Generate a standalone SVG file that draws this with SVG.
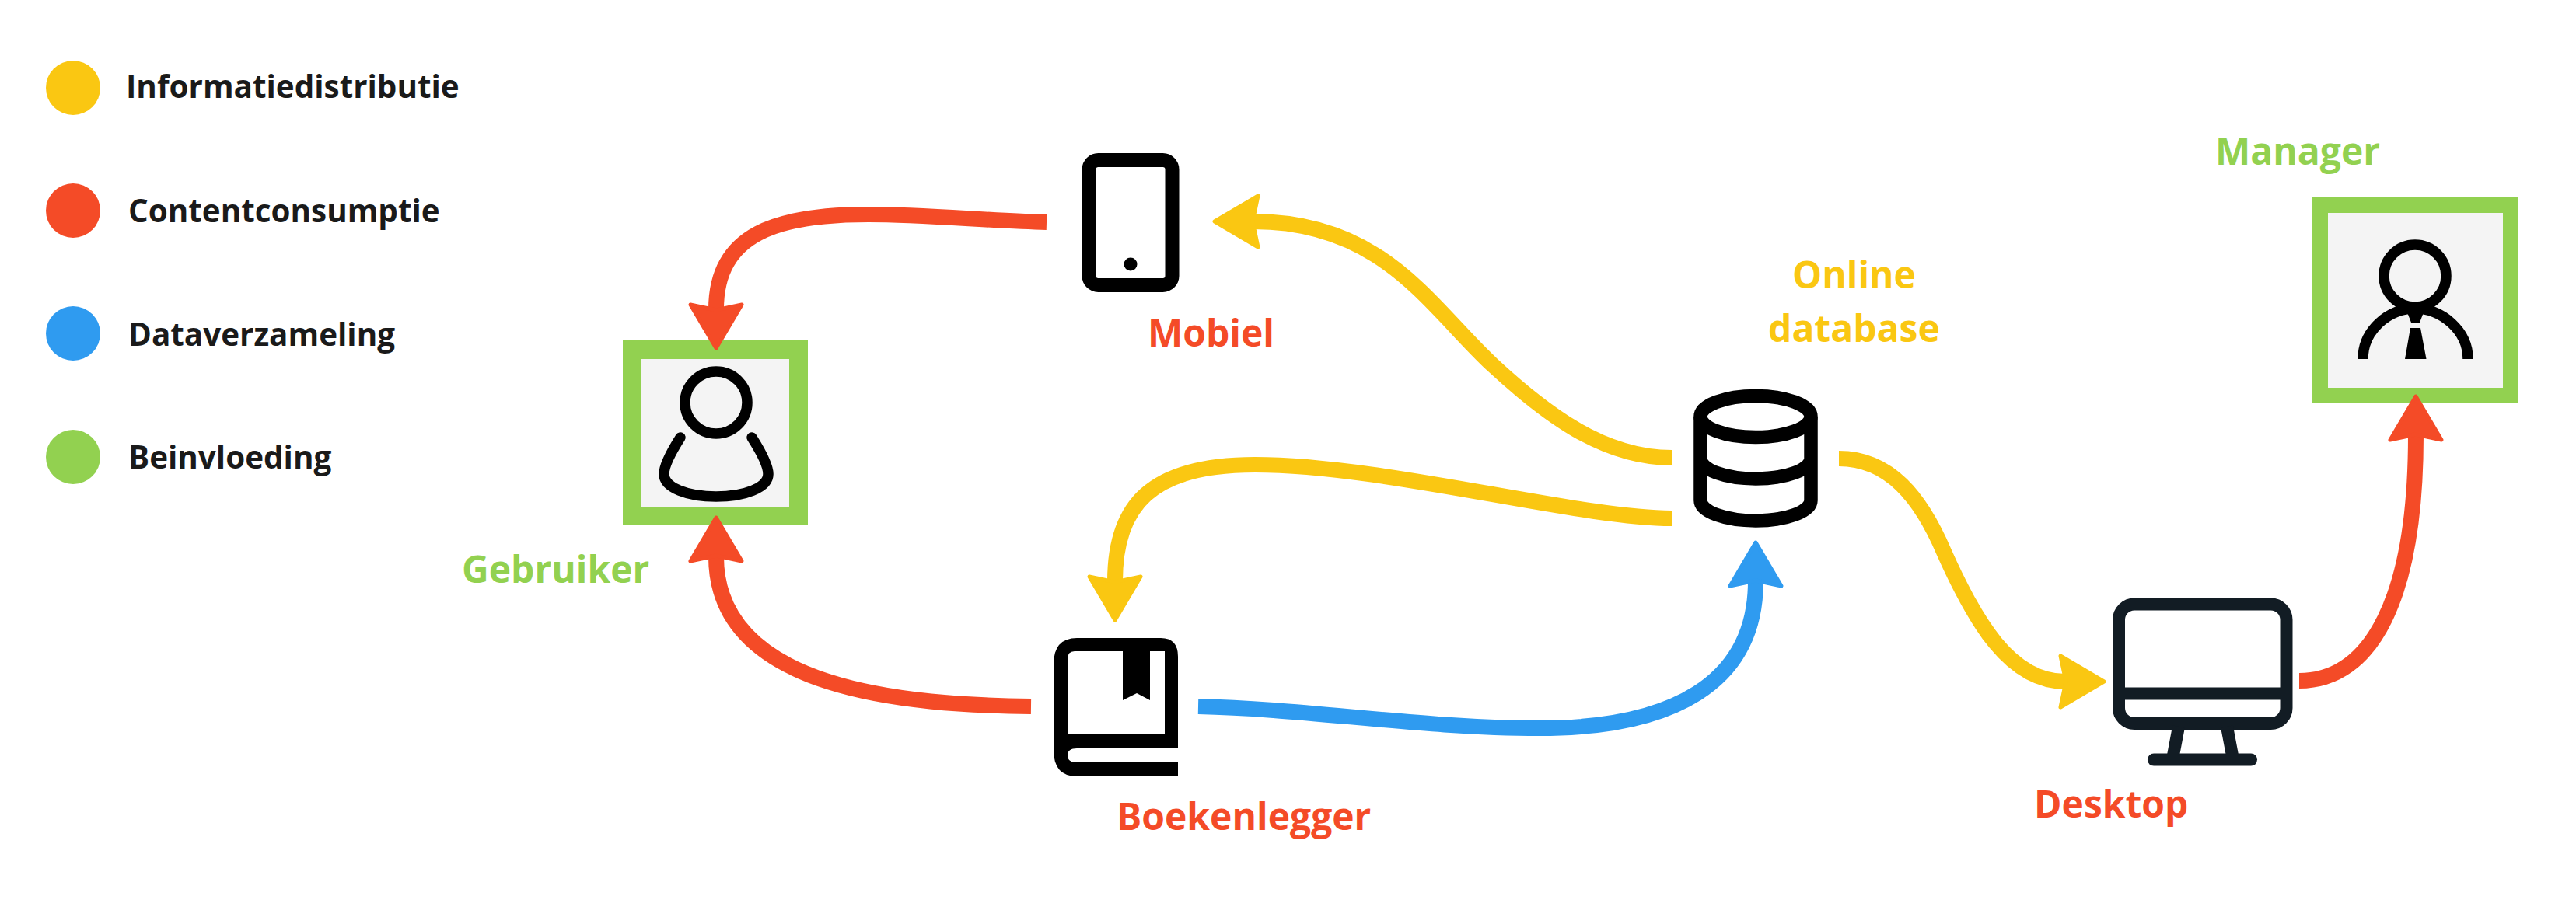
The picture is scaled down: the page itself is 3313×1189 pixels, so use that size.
<svg xmlns="http://www.w3.org/2000/svg" width="3313" height="1189" viewBox="0 0 3313 1189">
<style>
text{font-family:"Open Sans","Noto Sans","Liberation Sans",sans-serif;font-weight:700}
.leg{font-size:40.4px;fill:#1a1a1a}
.lab{font-size:48px}
.r{fill:#f44b27}.y{fill:#fac712}.b{fill:#2f9bf0}.g{fill:#92d150}
.c{fill:none;stroke-width:20}
.cr{stroke:#f44b27}.cy{stroke:#fac712}.cb{stroke:#2f9bf0}
.ic{fill:none;stroke:#000;stroke-width:13.5}
.bx{fill:#f4f4f4;stroke:#92d150;stroke-width:22}
.db{fill:none;stroke:#000;stroke-width:17.5}
.mon{fill:none;stroke:#121c24;stroke-width:16}
</style>
<defs>
<marker id="hr" markerUnits="userSpaceOnUse" viewBox="-5 -40 70 80" markerWidth="70" markerHeight="80" refX="8" refY="0" orient="auto"><path d="M58 0 L2 -33 L9 0 L2 33Z" fill="#f44b27" stroke="#f44b27" stroke-width="5" stroke-linejoin="round"/></marker>
<marker id="hy" markerUnits="userSpaceOnUse" viewBox="-5 -40 70 80" markerWidth="70" markerHeight="80" refX="8" refY="0" orient="auto"><path d="M58 0 L2 -33 L9 0 L2 33Z" fill="#fac712" stroke="#fac712" stroke-width="5" stroke-linejoin="round"/></marker>
<marker id="hb" markerUnits="userSpaceOnUse" viewBox="-5 -40 70 80" markerWidth="70" markerHeight="80" refX="8" refY="0" orient="auto"><path d="M58 0 L2 -33 L9 0 L2 33Z" fill="#2f9bf0" stroke="#2f9bf0" stroke-width="5" stroke-linejoin="round"/></marker>
</defs>
<rect width="3313" height="1189" fill="#fff"/>
<g id="legend">
<circle class="y" cx="94" cy="113" r="35"/><text class="leg" x="162" y="126">Informatiedistributie</text>
<circle class="r" cx="94" cy="271" r="35"/><text class="leg" x="165" y="286">Contentconsumptie</text>
<circle class="b" cx="94" cy="429" r="35"/><text class="leg" x="165" y="445">Dataverzameling</text>
<circle class="g" cx="94" cy="588" r="35"/><text class="leg" x="165" y="603">Beinvloeding</text>
</g>
<g id="gebruiker">
<rect class="bx" x="813" y="450" width="214" height="214" style="stroke-width:24"/>
<ellipse class="ic" cx="921" cy="518" rx="40" ry="40"/>
<path class="ic" stroke-linecap="round" d="M875 563C861 585 854 600 854 610C854 628 885 639 921 639C957 639 988 628 988 610C988 600 981 585 967 563"/>
<text class="lab g" x="594" y="750">Gebruiker</text>
</g>
<g id="manager">
<rect class="bx" x="2984" y="264" width="245" height="245" style="stroke-width:20"/>
<ellipse class="ic" cx="3106" cy="355" rx="40" ry="40"/>
<path class="ic" d="M3039 462C3039 425 3072 397 3106 397C3140 397 3174 425 3174 462"/>
<path d="M3096 402H3117L3112 415H3101ZM3100 422H3113L3120.5 462H3093Z" fill="#000"/>
<text class="lab g" x="2849" y="212">Manager</text>
</g>
<g id="mobiel">
<rect x="1400.5" y="206" width="107" height="161" rx="12" fill="none" stroke="#000" stroke-width="18"/>
<circle cx="1454" cy="340" r="8.5" fill="#000"/>
<text class="lab r" x="1476" y="446">Mobiel</text>
</g>
<g id="boekenlegger">
<path fill-rule="evenodd" d="M1385 821H1493Q1515 821 1515 845V963H1385Q1373 963 1373 972Q1373 981 1385 981H1515V999H1385Q1355 999 1355 965V855Q1355 821 1385 821ZM1382 838Q1373 838 1373 848V945H1498V838Z" fill="#000"/>
<path d="M1444 838H1479V901L1462 892L1444 901Z" fill="#000"/>
<text class="lab r" x="1436" y="1068">Boekenlegger</text>
</g>
<g id="database">
<ellipse class="db" cx="2258" cy="536" rx="71" ry="26.5"/>
<path class="db" d="M2187 536V644A71 26 0 0 0 2329 644V536M2187 590A71 26 0 0 0 2329 590"/>
<text class="lab y" x="2305" y="371">Online</text>
<text class="lab y" x="2274" y="440">database</text>
</g>
<g id="desktop">
<rect class="mon" x="2725" y="777.5" width="215.5" height="153.5" rx="20"/>
<path class="mon" d="M2725 892.5H2940.5"/>
<path class="mon" stroke-width="14" d="M2802 935L2795 972M2864 935L2871 972"/>
<path class="mon" stroke-linecap="round" stroke-width="15" d="M2770 977.5H2895"/>
<text class="lab r" x="2616" y="1052">Desktop</text>
</g>
<g id="connectors">
<path class="c cr" marker-end="url(#hr)" d="M1346 286C1270 284 1190 276 1117 276C1000 276 921 300 921 398"/>
<path class="c cr" marker-end="url(#hr)" d="M1326 909C1170 907 921 890 921 716"/>
<path class="c cy" marker-end="url(#hy)" d="M2150 589C2060 589 1985 530 1920 470C1840 396 1780 285 1612 285"/>
<path class="c cy" marker-end="url(#hy)" d="M2150 667C2030 667 1780 598 1614 598C1480 598 1434 650 1434 748"/>
<path class="c cb" marker-end="url(#hb)" d="M1541 909C1680 912 1830 937 1980 937C2150 937 2258 880 2258 748"/>
<path class="c cy" marker-end="url(#hy)" d="M2365 590C2430 590 2470 640 2500 710C2540 800 2585 877 2656 877"/>
<path class="c cr" marker-end="url(#hr)" d="M2957 876C3050 876 3107 770 3107 560"/>
</g>
</svg>
